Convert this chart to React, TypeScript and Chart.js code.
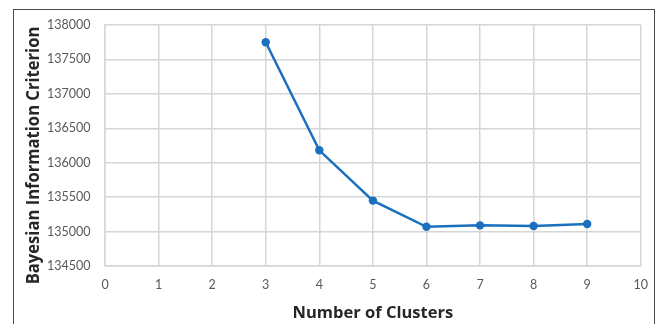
import { useEffect, useRef } from "react";
import { Chart, registerables } from "chart.js";

Chart.register(...registerables);

const clusters = [3, 4, 5, 6, 7, 8, 9];
const bicValues = [137750, 136180, 135450, 135070, 135090, 135080, 135110];
const xMin = 0;
const xMax = 10;
const xStep = 1;
const yMin = 134500;
const yMax = 138000;
const yStep = 500;
const xTitle = "Number of Clusters";
const yTitle = "Bayesian Information Criterion";

const TICK_FONT = "Lato, 'Open Sans', sans-serif";
const TITLE_FONT = "'Open Sans', Lato, sans-serif";
const LINE_COLOR = "#1a70bf";
const GRID_COLOR = "#d6d6d6";

const yTitlePlugin = {
  id: "yTitlePlugin",
  afterDraw(chart: any) {
    const ctx = chart.ctx;
    const area = chart.chartArea;
    ctx.save();
    ctx.translate(34, (area.top + area.bottom) / 2 + 10);
    ctx.rotate(-Math.PI / 2);
    ctx.scale(1, 1.06);
    ctx.font = `bold 16.6px ${TITLE_FONT}`;
    ctx.fillStyle = "#262626";
    ctx.textAlign = "center";
    ctx.textBaseline = "middle";
    ctx.fillText(yTitle, 0, 0);
    ctx.restore();
  },
};

export default function App() {
  const canvasRef = useRef<HTMLCanvasElement | null>(null);

  useEffect(() => {
    if (!canvasRef.current) return;
    const chart = new Chart(canvasRef.current, {
      type: "line",
      data: {
        datasets: [
          {
            data: clusters.map((c, i) => ({ x: c, y: bicValues[i] })),
            borderColor: LINE_COLOR,
            backgroundColor: LINE_COLOR,
            borderWidth: 2.5,
            pointRadius: 4.2,
            pointHoverRadius: 4.2,
            pointBorderWidth: 0,
            tension: 0,
            fill: false,
          },
        ],
      },
      options: {
        animation: false,
        responsive: false,
        devicePixelRatio: 1,
        layout: { padding: { left: 0, top: 25, right: 17, bottom: 0 } },
        plugins: {
          legend: { display: false },
          tooltip: { enabled: false },
          title: { display: false },
        },
        scales: {
          x: {
            type: "linear",
            min: xMin,
            max: xMax,
            afterFit: (scale: any) => {
              scale.height = 58;
            },
            ticks: {
              stepSize: xStep,
              padding: 11,
              color: "#595959",
              font: { family: TICK_FONT, size: 12.5 },
            },
            grid: { color: GRID_COLOR, lineWidth: 1.5, drawTicks: false },
            border: { display: true, color: GRID_COLOR, width: 1.5 },
            title: {
              display: true,
              text: xTitle,
              color: "#262626",
              font: { family: TITLE_FONT, size: 16.5, weight: "bold" },
              padding: { top: 0, bottom: 1 },
            },
          },
          y: {
            type: "linear",
            min: yMin,
            max: yMax,
            afterFit: (scale: any) => {
              scale.width = 105;
            },
            ticks: {
              stepSize: yStep,
              padding: 14.5,
              color: "#595959",
              font: { family: TICK_FONT, size: 12.5 },
              callback: (v: any) => String(v),
            },
            grid: { color: GRID_COLOR, lineWidth: 1.5, drawTicks: false },
            border: { display: true, color: GRID_COLOR, width: 1.5 },
          },
        },
      },
      plugins: [yTitlePlugin],
    } as any);
    return () => chart.destroy();
  }, []);

  return (
    <div
      style={{
        position: "fixed",
        left: 0,
        top: 0,
        width: 659,
        height: 324,
        overflow: "hidden",
        background: "#ffffff",
      }}
    >
      <div
        style={{
          position: "absolute",
          left: 13,
          top: 9,
          width: 642,
          height: 340,
          border: "1px solid #4a4a4a",
          boxSizing: "border-box",
        }}
      />
      <canvas
        ref={canvasRef}
        width={659}
        height={324}
        style={{ position: "absolute", left: 0, top: 0, width: 659, height: 324 }}
      />
    </div>
  );
}
